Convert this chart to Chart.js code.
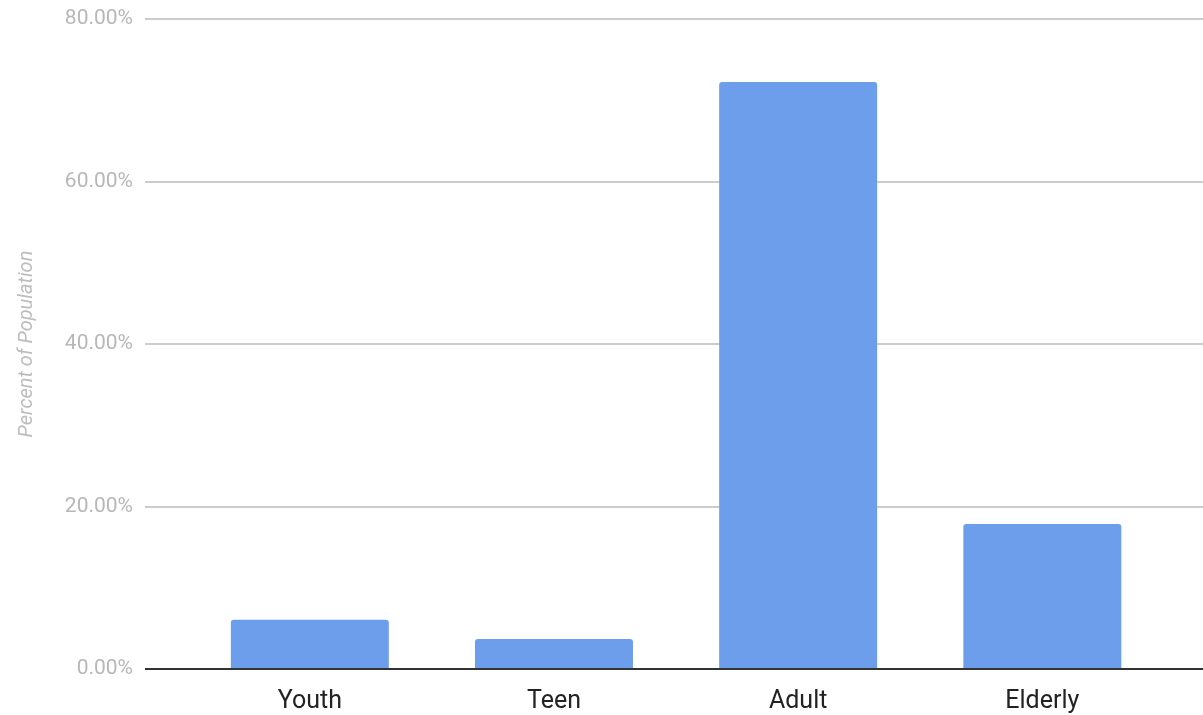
<!DOCTYPE html>
<html>
<head>
<meta charset="utf-8">
<script src="https://cdn.jsdelivr.net/npm/chart.js@4"></script>
<style>
  html, body { margin: 0; padding: 0; background: #fff; }
  #wrap { width: 1203px; height: 715px; }
</style>
</head>
<body>
<div id="wrap"><canvas id="myChart"></canvas></div>
<script>
// data
const categories = ['Youth', 'Teen', 'Adult', 'Elderly'];
const percentValues = [6.06, 3.69, 72.24, 17.84];
const yTicks = [0, 20, 40, 60, 80];

const ctx = document.getElementById('myChart');

new Chart(ctx, {
    type: 'bar',
    data: {
        datasets: [{
            label: 'Percent of Population',
            data: percentValues.map((v, i) => ({ x: i, y: v })),
            backgroundColor: '#6d9eeb',
            borderRadius: { topLeft: 3, topRight: 3 },
            borderSkipped: 'start',
            categoryPercentage: 1,
            barPercentage: 0.647
        }]
    },
    options: {
        responsive: true,
        maintainAspectRatio: false,
        animation: false,
        layout: { padding: { top: 19, right: 0, left: 0, bottom: 0 } },
        plugins: {
            legend: { display: false },
            tooltip: { enabled: false }
        },
        scales: {
            x: {
                type: 'linear',
                offset: false,
                min: -0.675,
                max: 3.658,
                grid: { display: false, offset: false },
                border: { display: false },
                afterBuildTicks: s => { s.ticks = categories.map((c, i) => ({ value: i })); },
                ticks: {
                    autoSkip: false,
                    maxRotation: 0,
                    color: '#222',
                    padding: 10,
                    font: { family: 'Roboto', size: 25 },
                    callback: v => categories[v] !== undefined ? categories[v] : ''
                },
                afterFit: s => { s.height = 46; s.paddingLeft = 0; s.paddingRight = 0; }
            },
            y: {
                min: yTicks[0],
                max: yTicks[yTicks.length - 1],
                border: { display: false },
                afterBuildTicks: s => { s.ticks = yTicks.map(v => ({ value: v })); },
                grid: {
                    drawTicks: false,
                    lineWidth: 2,
                    color: c => c.tick && c.tick.value === 0 ? '#333' : '#cccccc'
                },
                ticks: {
                    padding: 12,
                    color: '#b7b7b7',
                    font: { family: 'Roboto', size: 21 },
                    callback: v => v.toFixed(2) + '%'
                },
                title: {
                    display: true,
                    text: 'Percent of Population',
                    color: '#bdbdbd',
                    font: { family: 'Roboto', size: 20, style: 'italic' },
                    padding: { top: 15, bottom: 0 }
                },
                afterFit: s => { s.width = 145; s.paddingTop = 0; s.paddingBottom = 0; }
            }
        }
    }
});
</script>
</body>
</html>
